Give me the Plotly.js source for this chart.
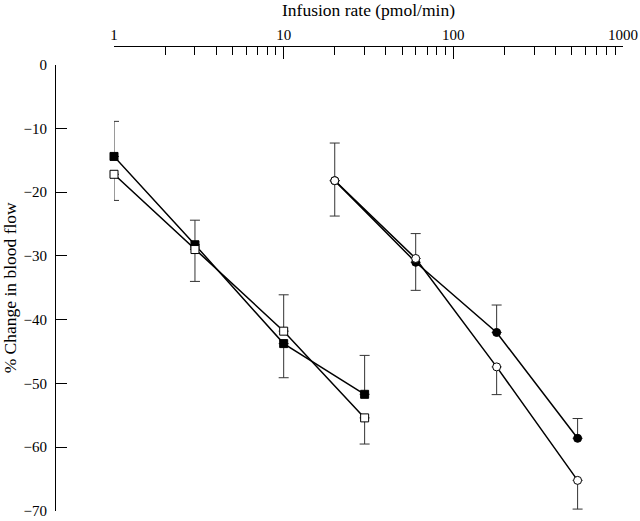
<!DOCTYPE html>
<html>
<head>
<meta charset="utf-8">
<script src="https://cdn.plot.ly/plotly-3.0.1.min.js"></script>
<style>
  html, body { margin: 0; padding: 0; background: #ffffff; }
  #chart { width: 640px; height: 521px; }
</style>
</head>
<body>
<div id="chart"></div>
<script>
// Infusion rates (pmol/min)
const xSquares = [1, 3, 10, 30];
const xCircles = [20, 60, 180, 540];

// % change in blood flow
const filledSquares = [-14.4, -28.25, -43.75, -51.7];
const filledSquaresErrUp = [5.5, 3.85, 0, 6.1];
const filledSquaresErrDown = [0, 0, 5.35, 0];

const openSquares = [-17.2, -29.0, -41.8, -55.4];
const openSquaresErrUp = [0, 0, 5.7, 0];
const openSquaresErrDown = [4.1, 5.0, 0, 4.1];

const filledCircles = [-18.2, -31.0, -42.0, -58.6];
const filledCirclesErrUp = [0, 0, 4.3, 3.1];
const filledCirclesErrDown = [5.55, 4.4, 0, 0];

const openCircles = [-18.2, -30.4, -47.4, -65.2];
const openCirclesErrUp = [5.9, 3.9, 0, 0];
const openCirclesErrDown = [0, 0, 4.35, 4.5];

// Axis ticks
const xMajorTicks = [1, 10, 100, 1000];
const xMajorLabels = ['1', '10', '100', '1000'];
const xMinorTicks = [2, 3, 4, 5, 6, 7, 8, 9, 20, 30, 40, 50, 60, 70, 80, 90, 200, 300, 400, 500, 600, 700, 800, 900];
const yTicks = [0, -10, -20, -30, -40, -50, -60, -70];

const FONT = 'Liberation Serif, Times New Roman, serif';

function series(x, y, up, down, symbol, fill) {
  return {
    type: 'scatter',
    mode: 'lines+markers',
    x: x,
    y: y,
    cliponaxis: false,
    line: { color: '#000000', width: 1.5 },
    marker: { symbol: symbol, size: 8, color: fill, line: { color: '#000000', width: 1 } },
    error_y: {
      type: 'data', symmetric: false, array: up, arrayminus: down,
      color: '#333333', thickness: 1, width: 5
    },
    showlegend: false,
    hoverinfo: 'x+y'
  };
}

const data = [
  series(xSquares, filledSquares, filledSquaresErrUp, filledSquaresErrDown, 'square', '#000000'),
  series(xSquares, openSquares, openSquaresErrUp, openSquaresErrDown, 'square', '#ffffff'),
  series(xCircles, filledCircles, filledCirclesErrUp, filledCirclesErrDown, 'circle', '#000000'),
  series(xCircles, openCircles, openCirclesErrUp, openCirclesErrDown, 'circle', '#ffffff')
];

const layout = {
  width: 640,
  height: 521,
  margin: { l: 55, r: 17, t: 46, b: 10 },
  paper_bgcolor: '#ffffff',
  plot_bgcolor: '#ffffff',
  font: { family: FONT, size: 15, color: '#000000' },
  xaxis: {
    type: 'log',
    range: [0, 3],
    domain: [0.1039, 1],
    side: 'top',
    anchor: 'free',
    position: 1,
    showline: true,
    linecolor: '#000000',
    linewidth: 1,
    showgrid: false,
    zeroline: false,
    ticks: 'inside',
    ticklen: 12,
    tickwidth: 1,
    tickcolor: '#000000',
    tickmode: 'array',
    tickvals: xMajorTicks,
    ticktext: xMajorLabels,
    ticklabeloverflow: 'allow',
    tickfont: { family: FONT, size: 15, color: '#000000' },
    minor: { tickmode: 'array', tickvals: xMinorTicks, ticks: 'inside', ticklen: 8, tickwidth: 1, tickcolor: '#000000', showgrid: false },
    title: { text: 'Infusion rate (pmol/min)', font: { family: FONT, size: 17.5, color: '#000000' } },
    automargin: false
  },
  yaxis: {
    range: [-70, 0],
    domain: [0, 0.9600],
    anchor: 'free',
    position: 0,
    showline: true,
    linecolor: '#000000',
    linewidth: 1,
    showgrid: false,
    zeroline: false,
    ticks: 'inside',
    ticklen: 11,
    tickwidth: 1,
    tickcolor: '#000000',
    tickmode: 'array',
    tickvals: yTicks,
    ticklabeloverflow: 'allow',
    tickfont: { family: FONT, size: 15, color: '#000000' },
    ticklabelstandoff: 5,
    title: { text: '% Change in blood flow', font: { family: FONT, size: 17.5, color: '#000000' } },
    automargin: false
  }
};

Plotly.newPlot('chart', data, layout, { displayModeBar: false, staticPlot: true });
</script>
</body>
</html>
